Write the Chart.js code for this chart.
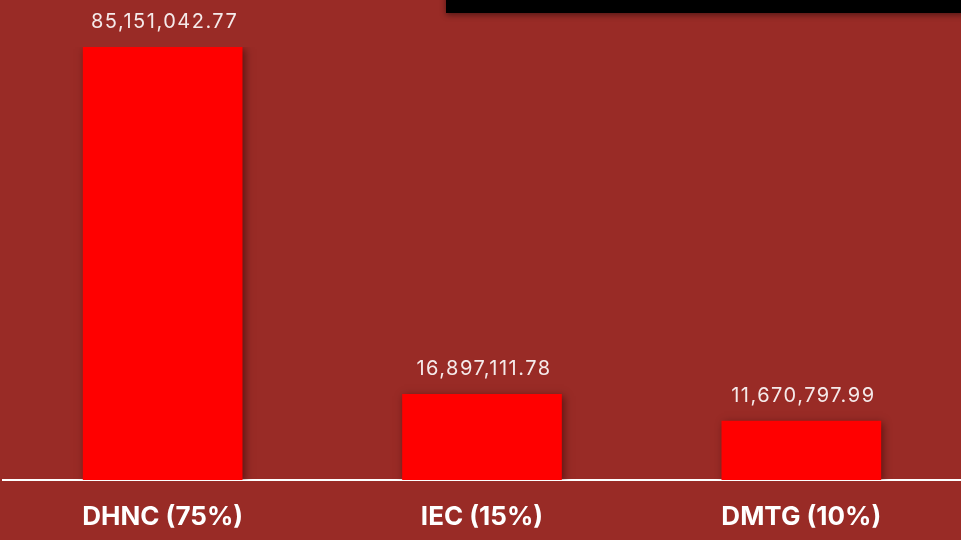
<!DOCTYPE html>
<html>
<head>
<meta charset="utf-8">
<script src="https://cdn.jsdelivr.net/npm/chart.js@4/dist/chart.umd.min.js"></script>
<style>
    html, body { margin: 0; padding: 0; background: #992b26; }
    #wrap { width: 961px; height: 540px; position: relative; }
</style>
</head>
<body>
<div id="wrap"><canvas id="barChart" width="961" height="540"></canvas></div>
<script>
// данные диаграммы
const categories = ["DHNC (75%)", "IEC (15%)", "DMTG (10%)"];
const amounts = [85151042.77, 16897111.78, 11670797.99];

// тень под столбиками и тёмная полоса сверху
const decorPlugin = {
    id: "decor",
    beforeDraw(chart) {
        const ctx = chart.ctx;
        ctx.save();
        ctx.shadowColor = "rgba(0,0,0,0.45)";
        ctx.shadowBlur = 6;
        ctx.shadowOffsetY = 2;
        ctx.fillStyle = "#000000";
        ctx.fillRect(446, -10, 520, 23);
        ctx.restore();
    },
    beforeDatasetDraw(chart) {
        const ctx = chart.ctx;
        ctx.save();
        ctx.shadowColor = "rgba(40,0,0,0.55)";
        ctx.shadowBlur = 8;
        ctx.shadowOffsetX = 2;
        ctx.shadowOffsetY = 2;
    },
    afterDatasetDraw(chart) {
        chart.ctx.restore();
    }
};

// подписи значений над столбиками
const valueLabels = {
    id: "valueLabels",
    afterDatasetsDraw(chart) {
        const ctx = chart.ctx;
        const meta = chart.getDatasetMeta(0);
        ctx.save();
        ctx.fillStyle = "#f5eaea";
        ctx.font = "20px Inter";
        ctx.letterSpacing = "1.5px";
        ctx.textAlign = "center";
        ctx.textBaseline = "middle";
        meta.data.forEach(function(bar, i) {
            const txt = amounts[i].toLocaleString("en-US", { minimumFractionDigits: 2, maximumFractionDigits: 2 });
            ctx.fillText(txt, bar.x + 2, bar.y - 25);
        });
        ctx.restore();
    }
};

const ctx = document.getElementById("barChart").getContext("2d");
new Chart(ctx, {
    type: "bar",
    data: {
        labels: categories,
        datasets: [{
            data: amounts,
            backgroundColor: "#ff0000",
            borderWidth: 0,
            categoryPercentage: 1,
            barPercentage: 0.5
        }]
    },
    options: {
        responsive: false,
        animation: false,
        layout: { padding: { top: 47, left: 3, right: 0, bottom: 0 } },
        plugins: {
            legend: { display: false },
            tooltip: { enabled: false }
        },
        scales: {
            x: {
                grid: { display: false, drawTicks: false },
                border: { display: true, color: "#ffffff", width: 2 },
                ticks: {
                    color: "#ffffff",
                    padding: 22,
                    font: { family: "Inter", size: 26, weight: "bold" }
                },
                afterFit(scale) {
                    scale.height = 60;
                }
            },
            y: {
                display: false,
                min: 0,
                max: 85151042.77
            }
        }
    },
    plugins: [decorPlugin, valueLabels]
});
</script>
</body>
</html>
